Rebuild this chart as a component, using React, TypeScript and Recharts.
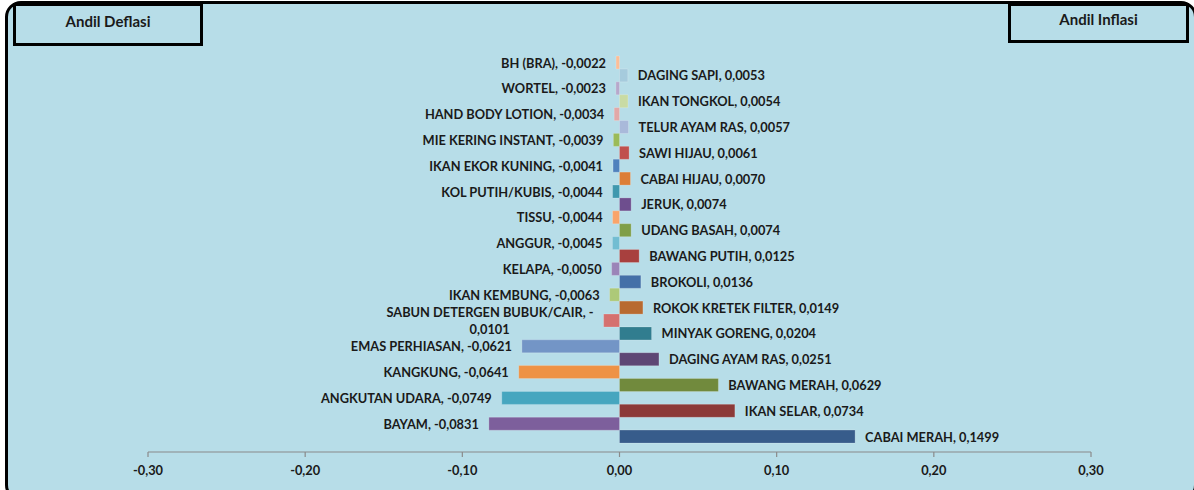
import React from "react";
import { BarChart, Bar, XAxis, YAxis, Cell, LabelList } from "recharts";

const categories = [
  "BH (BRA)", "DAGING SAPI", "WORTEL", "IKAN TONGKOL", "HAND BODY LOTION",
  "TELUR AYAM RAS", "MIE KERING INSTANT", "SAWI HIJAU", "IKAN EKOR KUNING", "CABAI HIJAU",
  "KOL PUTIH/KUBIS", "JERUK", "TISSU", "UDANG BASAH", "ANGGUR",
  "BAWANG PUTIH", "KELAPA", "BROKOLI", "IKAN KEMBUNG", "ROKOK KRETEK FILTER",
  "SABUN DETERGEN BUBUK/CAIR", "MINYAK GORENG", "EMAS PERHIASAN", "DAGING AYAM RAS", "KANGKUNG",
  "BAWANG MERAH", "ANGKUTAN UDARA", "IKAN SELAR", "BAYAM", "CABAI MERAH",
];

const andil = [
  -0.0022, 0.0053, -0.0023, 0.0054, -0.0034,
  0.0057, -0.0039, 0.0061, -0.0041, 0.0070,
  -0.0044, 0.0074, -0.0044, 0.0074, -0.0045,
  0.0125, -0.0050, 0.0136, -0.0063, 0.0149,
  -0.0101, 0.0204, -0.0621, 0.0251, -0.0641,
  0.0629, -0.0749, 0.0734, -0.0831, 0.1499,
];

const xTicks = [-0.3, -0.2, -0.1, 0, 0.1, 0.2, 0.3];

const legendLeft = "Andil Deflasi";
const legendRight = "Andil Inflasi";

const barColors = [
  "#FBBE98", "#A6CBDD", "#B7A8CB", "#C9DBA4", "#E2A8A7",
  "#A9B9DA", "#9BBB59", "#C0504D", "#4F81BD", "#DC7E37",
  "#3F98AE", "#6E4E8E", "#F9A46A", "#7F9E48", "#72BDD2",
  "#A8403E", "#9B84B8", "#4470A8", "#ADC978", "#B86A30",
  "#D5716F", "#317D8F", "#7395C6", "#5E4674", "#EE9245",
  "#718A3D", "#46A6BF", "#8C3A38", "#7D5F9C", "#375C8B",
];

const fmt = (v: number, d: number) => v.toFixed(d).replace(".", ",");

const table = categories.map((name, i) => ({
  name,
  value: andil[i],
  label: `${name}, ${fmt(andil[i], 4)}`,
}));

const FONT = "Lato, 'Open Sans', sans-serif";
const TEXT = "#1a1a1a";
const LABEL_SIZE = 12.8;

const renderLabel = (props: any) => {
  const { x, y, width, height, index } = props;
  const row = table[index];
  if (!row) return null;
  const a = Number(x);
  const b = Number(x) + Number(width);
  const left = Math.min(a, b);
  const right = Math.max(a, b);
  const cy = Number(y) + Number(height) / 2;
  const common = {
    fontFamily: FONT,
    fontSize: LABEL_SIZE,
    fontWeight: 700,
    fill: TEXT,
    dominantBaseline: "central" as const,
  };
  if (row.value < 0) {
    if (row.name.length > 22) {
      const l1 = `${row.name}, -`;
      const l2 = fmt(Math.abs(row.value), 4);
      return (
        <g>
          <text x={left - 10} y={cy - 8.5} textAnchor="end" {...common}>{l1}</text>
          <text x={left - 10 - 104} y={cy + 8.5} textAnchor="middle" {...common}>{l2}</text>
        </g>
      );
    }
    return (
      <text x={left - 10} y={cy} textAnchor="end" {...common}>{row.label}</text>
    );
  }
  return (
    <text x={right + 10} y={cy} textAnchor="start" {...common}>{row.label}</text>
  );
};

const renderTick = (props: any) => {
  const { x, y, payload } = props;
  return (
    <text
      x={x}
      y={y + 11}
      textAnchor="middle"
      dominantBaseline="central"
      fontFamily={FONT}
      fontSize={LABEL_SIZE}
      fontWeight={700}
      fill={TEXT}
    >
      {fmt(Number(payload.value), 2)}
    </text>
  );
};

const boxStyle: React.CSSProperties = {
  position: "absolute",
  top: 3,
  border: "3.5px solid #000",
  background: "#B7DDE8",
  boxSizing: "border-box",
  display: "flex",
  alignItems: "center",
  justifyContent: "center",
  fontFamily: FONT,
  fontWeight: 700,
  fontSize: 15,
  color: TEXT,
  paddingBottom: 8,
};

export default function App() {
  return (
    <div style={{ position: "fixed", left: 0, top: 0, width: 1194, height: 490, overflow: "hidden", background: "#fff" }}>
      <div
        style={{
          position: "absolute",
          left: 5,
          top: 1,
          width: 1192,
          height: 500,
          background: "#B7DDE8",
          border: "3.5px solid #000",
          borderRadius: 16,
          boxSizing: "border-box",
        }}
      />
      <div style={{ position: "absolute", left: 0, top: 0 }}>
        <BarChart
          width={1194}
          height={490}
          data={table}
          layout="vertical"
          margin={{ top: 56, right: 103, bottom: 8, left: 148 }}
          barCategoryGap={0}
        >
          <XAxis
            type="number"
            dataKey="value"
            domain={[-0.3, 0.3]}
            ticks={xTicks}
            interval={0}
            height={30}
            axisLine={{ stroke: "#8a8a8a", strokeWidth: 1.2 }}
            tickLine={{ stroke: "#8a8a8a", strokeWidth: 1.2 }}
            tickSize={5}
            tick={renderTick}
          />
          <YAxis type="category" dataKey="name" hide padding={{ top: 0, bottom: 9 }} />
          <Bar dataKey="value" isAnimationActive={false} stroke="rgba(255,255,255,0.25)" strokeWidth={0.8}>
            {table.map((_, i) => (
              <Cell key={i} fill={barColors[i]} />
            ))}
            <LabelList dataKey="label" content={renderLabel} />
          </Bar>
        </BarChart>
      </div>
      <div style={{ ...boxStyle, left: 13, width: 190, height: 43 }}>{legendLeft}</div>
      <div style={{ ...boxStyle, left: 1008, width: 181, height: 40 }}>{legendRight}</div>
    </div>
  );
}
